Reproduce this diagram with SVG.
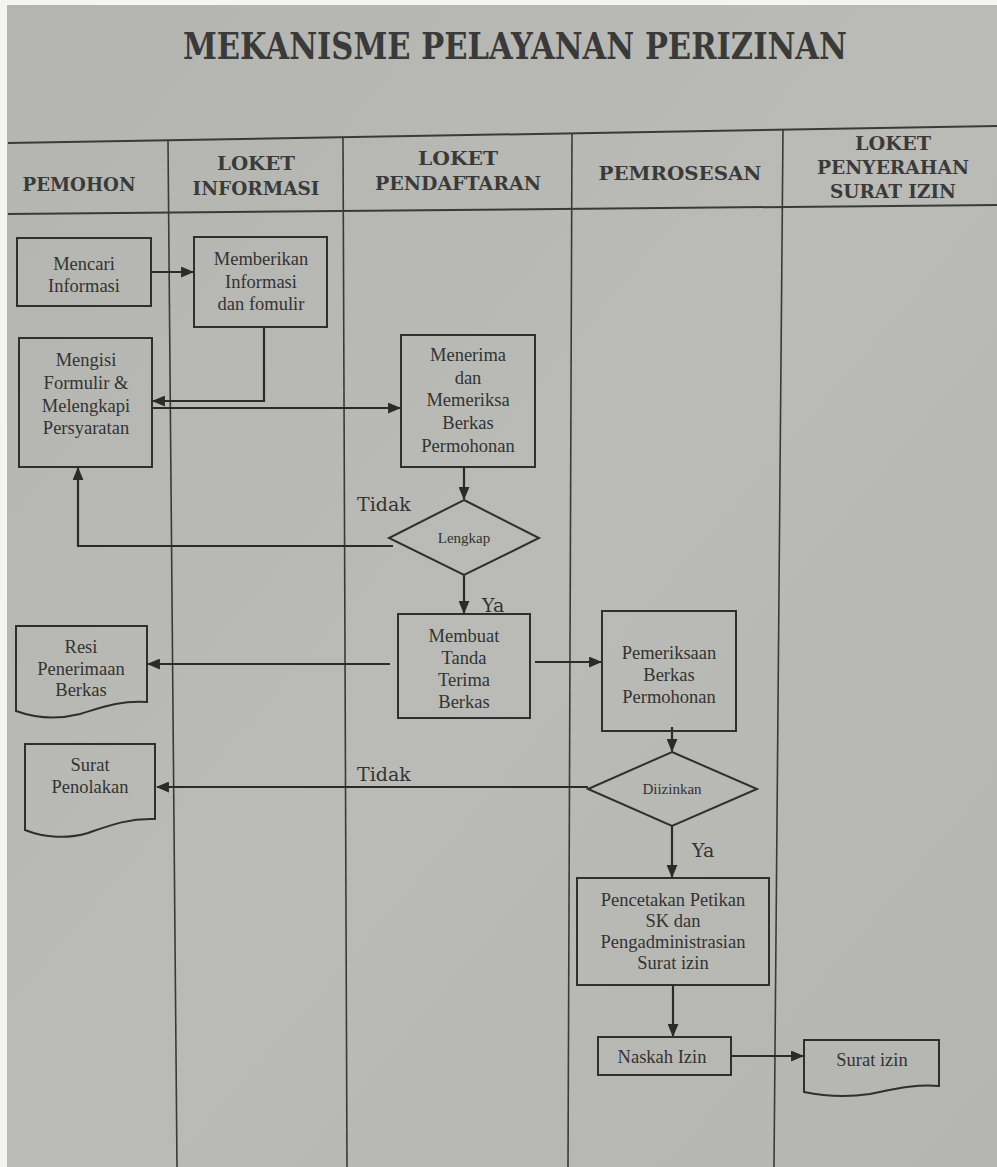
<svg xmlns="http://www.w3.org/2000/svg" width="997" height="1167" viewBox="0 0 997 1167">
<defs>
<linearGradient id="bg" x1="0" y1="0" x2="1" y2="1">
<stop offset="0" stop-color="#b4b5b0"/>
<stop offset="0.5" stop-color="#babbb6"/>
<stop offset="1" stop-color="#b5b6b1"/>
</linearGradient>
<marker id="ah" viewBox="0 0 12 10" refX="11" refY="5" markerWidth="13" markerHeight="11" markerUnits="userSpaceOnUse" orient="auto">
<path d="M0,0 L12,5 L0,10 Z" fill="#2b2b2b"/>
</marker>
<style>
.box{fill:none;stroke:#2f2f2f;stroke-width:2}
.lane{fill:none;stroke:#3a3a3a;stroke-width:1.6}
.hl{fill:none;stroke:#3a3a3a;stroke-width:2}
.con{fill:none;stroke:#2b2b2b;stroke-width:2.2;marker-end:url(#ah)}
.t{font-family:"Liberation Serif","Times New Roman",serif;font-size:18.5px;fill:#333;text-anchor:middle}
.s{font-family:"Liberation Serif","Times New Roman",serif;font-size:15px;fill:#333;text-anchor:middle}
.lb{font-family:"DejaVu Serif",serif;font-size:19px;fill:#333}
.h{font-family:"DejaVu Serif",serif;font-weight:bold;font-size:19px;fill:#3a3a3a;text-anchor:middle}
.title{font-family:"DejaVu Serif",serif;font-weight:bold;font-size:37px;fill:#3a3a3a;text-anchor:middle}
</style>
</defs>
<rect width="997" height="1167" fill="#f4f4f2"/>
<rect x="7" y="5" width="990" height="1162" fill="url(#bg)"/>

<text class="title" x="515" y="59" textLength="664" lengthAdjust="spacingAndGlyphs">MEKANISME PELAYANAN PERIZINAN</text>

<g id="swimlanes">
<line class="hl" x1="8" y1="143" x2="997" y2="126"/>
<line class="hl" x1="8" y1="214" x2="997" y2="205"/>
<line class="lane" x1="168" y1="141" x2="177" y2="1167"/>
<line class="lane" x1="343" y1="138" x2="347" y2="1167"/>
<line class="lane" x1="572" y1="134" x2="568" y2="1167"/>
<line class="lane" x1="783" y1="130" x2="774" y2="1167"/>
<text class="h" x="79" y="191" textLength="113" lengthAdjust="spacingAndGlyphs">PEMOHON</text>
<text class="h" x="256" y="170" textLength="78" lengthAdjust="spacingAndGlyphs">LOKET</text>
<text class="h" x="256" y="195" textLength="127" lengthAdjust="spacingAndGlyphs">INFORMASI</text>
<text class="h" x="458" y="165" textLength="80" lengthAdjust="spacingAndGlyphs">LOKET</text>
<text class="h" x="458" y="190" textLength="166" lengthAdjust="spacingAndGlyphs">PENDAFTARAN</text>
<text class="h" x="680" y="180" textLength="163" lengthAdjust="spacingAndGlyphs">PEMROSESAN</text>
<text class="h" x="893" y="150" textLength="76" lengthAdjust="spacingAndGlyphs">LOKET</text>
<text class="h" x="893" y="174" textLength="152" lengthAdjust="spacingAndGlyphs">PENYERAHAN</text>
<text class="h" x="893" y="198" textLength="126" lengthAdjust="spacingAndGlyphs">SURAT IZIN</text>
</g>

<g id="connectors">
<path class="con" d="M151,272 H193"/>
<path class="con" d="M264,327 V401 H153"/>
<path class="con" d="M153,408 H400"/>
<path class="con" d="M464,467 V499"/>
<path class="con" d="M393,546 H78 V468"/>
<path class="con" d="M464,575 V613"/>
<path class="con" d="M390,664 H148"/>
<path class="con" d="M535,662 H601"/>
<path class="con" d="M672,727 V751"/>
<path class="con" d="M588,787 H157"/>
<path class="con" d="M672,826 V877"/>
<path class="con" d="M673,985 V1036"/>
<path class="con" d="M731,1056 H803"/>
<text class="lb" x="357" y="511">Tidak</text>
<text class="lb" x="482" y="612">Ya</text>
<text class="lb" x="357" y="781">Tidak</text>
<text class="lb" x="692" y="857">Ya</text>
</g>

<g id="mencari">
<rect class="box" x="17" y="238" width="134" height="68"/>
<text class="t" x="84" y="270">Mencari</text>
<text class="t" x="84" y="292">Informasi</text>
</g>

<g id="memberikan">
<rect class="box" x="194" y="237" width="133" height="90"/>
<text class="t" x="261" y="265">Memberikan</text>
<text class="t" x="261" y="288">Informasi</text>
<text class="t" x="261" y="310">dan fomulir</text>
</g>

<g id="mengisi">
<rect class="box" x="19" y="338" width="133" height="129"/>
<text class="t" x="86" y="366">Mengisi</text>
<text class="t" x="86" y="389">Formulir &amp;</text>
<text class="t" x="86" y="412">Melengkapi</text>
<text class="t" x="86" y="434">Persyaratan</text>
</g>

<g id="menerima">
<rect class="box" x="401" y="335" width="134" height="132"/>
<text class="t" x="468" y="361">Menerima</text>
<text class="t" x="468" y="384">dan</text>
<text class="t" x="468" y="406">Memeriksa</text>
<text class="t" x="468" y="429">Berkas</text>
<text class="t" x="468" y="452">Permohonan</text>
</g>

<g id="lengkap">
<polygon class="box" points="464,500 539,538 464,575 389,538"/>
<text class="s" x="464" y="543">Lengkap</text>
</g>

<g id="membuat">
<rect class="box" x="398" y="614" width="132" height="104"/>
<text class="t" x="464" y="642">Membuat</text>
<text class="t" x="464" y="664">Tanda</text>
<text class="t" x="464" y="686">Terima</text>
<text class="t" x="464" y="708">Berkas</text>
</g>

<g id="resi">
<path class="box" d="M16,626 H147 V702 C120,700 100,708 80,714 C60,719 38,719 16,711 Z"/>
<text class="t" x="81" y="653">Resi</text>
<text class="t" x="81" y="675">Penerimaan</text>
<text class="t" x="81" y="696">Berkas</text>
</g>

<g id="pemeriksaan">
<rect class="box" x="602" y="611" width="134" height="120"/>
<text class="t" x="669" y="659">Pemeriksaan</text>
<text class="t" x="669" y="681">Berkas</text>
<text class="t" x="669" y="703">Permohonan</text>
</g>

<g id="diizinkan">
<polygon class="box" points="672,752 757,789 672,826 588,789"/>
<text class="s" x="672" y="794">Diizinkan</text>
</g>

<g id="penolakan">
<path class="box" d="M25,744 H155 V819 C128,818 108,826 88,833 C68,839 45,838 25,830 Z"/>
<text class="t" x="90" y="771">Surat</text>
<text class="t" x="90" y="793">Penolakan</text>
</g>

<g id="pencetakan">
<rect class="box" x="577" y="878" width="192" height="107"/>
<text class="t" x="673" y="906">Pencetakan Petikan</text>
<text class="t" x="673" y="927">SK dan</text>
<text class="t" x="673" y="948">Pengadministrasian</text>
<text class="t" x="673" y="969">Surat izin</text>
</g>

<g id="naskah">
<rect class="box" x="598" y="1037" width="133" height="38"/>
<text class="t" x="662" y="1063">Naskah Izin</text>
</g>

<g id="suratizin">
<path class="box" d="M804,1040 H939 V1086 C915,1084 895,1089 870,1094 C850,1097 828,1097 804,1092 Z"/>
<text class="t" x="872" y="1066">Surat izin</text>
</g>
</svg>
